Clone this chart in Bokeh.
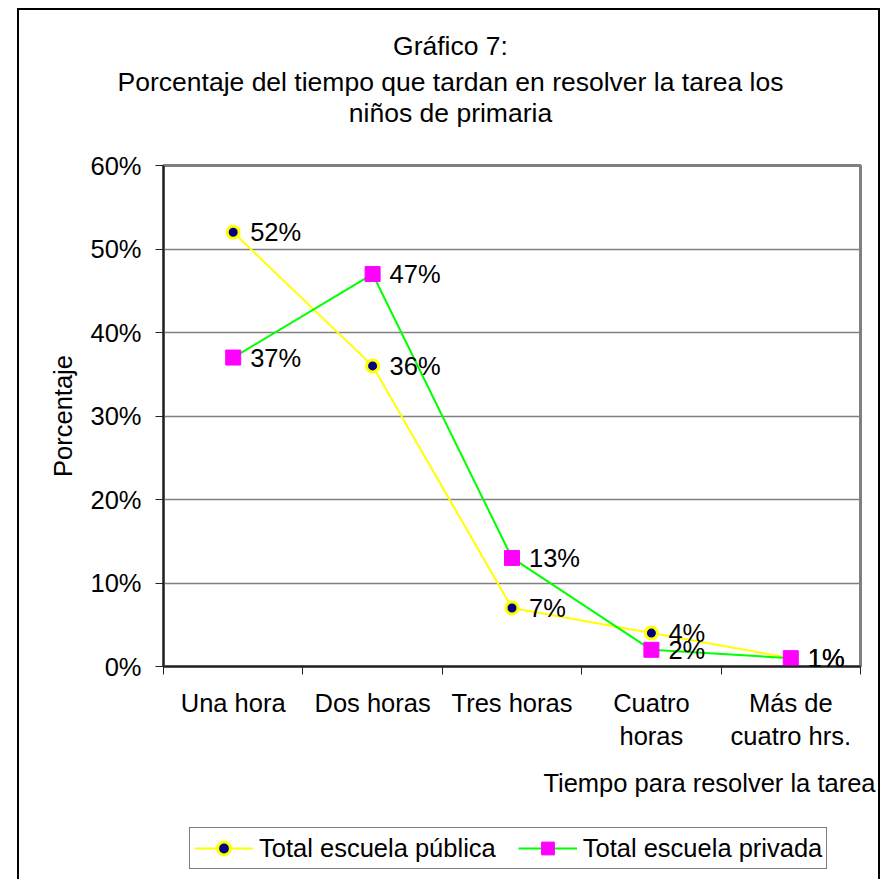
from bokeh.plotting import figure
from bokeh.layouts import column
from bokeh.models import (ColumnDataSource, Range1d, FixedTicker, PrintfTickFormatter,
                          LabelSet, Label, Title, Legend, LegendItem)
from bokeh.core.properties import value
from bokeh.embed import file_html
from bokeh.resources import INLINE

categories = ["Una hora", "Dos horas", "Tres horas", "Cuatro\nhoras", "Más de\ncuatro hrs."]
publica = [52, 36, 7, 4, 1]
privada = [37, 47, 13, 2, 1]
y_ticks = [0, 10, 20, 30, 40, 50, 60]
title_lines = ["Gráfico 7:",
               "Porcentaje del tiempo que tardan en resolver la tarea los",
               "niños de primaria"]
x_title = "Tiempo para resolver la tarea"
y_title = "Porcentaje"
series_names = ["Total escuela pública", "Total escuela privada"]

FONT = "Liberation Sans"
FS = "25.5px"
W = 859

xs = list(range(len(categories)))
src_pub = ColumnDataSource(dict(x=xs, y=publica, t=[f"{v}%" for v in publica]))
src_pri = ColumnDataSource(dict(x=xs, y=privada, t=[f"{v}%" for v in privada]))

pub_line = dict(line_color="#FFFF00", line_width=2)
pub_mark = dict(marker="circle", size=12, fill_color="#000080", line_color="#FFFF00", line_width=3)
pri_line = dict(line_color="#00FF00", line_width=2)
pri_mark = dict(marker="square", size=15, fill_color="#FF00FF", line_color="#FF00FF", line_width=1)


def blank(h):
    f = figure(width=W, height=h, output_backend="svg", toolbar_location=None,
               x_axis_type=None, y_axis_type=None, min_border=0,
               x_range=Range1d(0, 1), y_range=Range1d(-2, -1))
    f.frame_align = False
    f.outline_line_color = None
    f.grid.grid_line_color = None
    f.background_fill_color = "white"
    f.border_fill_color = "white"
    return f


# ---- title block ----
top = blank(130)
for txt, yy in zip(title_lines, [95, 59, 28]):
    top.add_layout(Label(x=431, y=yy, x_units="screen", y_units="screen", text=txt,
                         text_font=FONT, text_font_size="26.5px", text_color="black",
                         text_align="center", text_baseline="middle"))

# ---- main chart ----
p = figure(width=W, height=675, output_backend="svg", toolbar_location=None,
           x_range=Range1d(-0.5, len(categories) - 0.5), y_range=Range1d(0, 60),
           min_border_left=144, min_border_right=18, min_border_top=25, min_border_bottom=149)
p.frame_align = False
p.background_fill_color = "white"
p.border_fill_color = "white"
p.outline_line_color = "#808080"
p.outline_line_width = 3

p.xgrid.grid_line_color = None
p.ygrid.grid_line_color = "#808080"
p.ygrid.grid_line_width = 1.5
p.ygrid.ticker = FixedTicker(ticks=y_ticks)

ya = p.yaxis[0]
ya.ticker = FixedTicker(ticks=y_ticks)
ya.formatter = PrintfTickFormatter(format="%d%%")
ya.major_tick_out = 8
ya.major_tick_in = 0
ya.minor_tick_line_color = None
ya.axis_line_color = "#222222"
ya.axis_line_width = 2
ya.major_tick_line_color = "#222222"
ya.major_label_text_font = FONT
ya.major_label_text_font_size = FS
ya.major_label_text_color = "black"
ya.major_label_standoff = 14
ya.axis_label = y_title
ya.axis_label_text_font = FONT
ya.axis_label_text_font_size = FS
ya.axis_label_text_font_style = "normal"
ya.axis_label_text_color = "black"
ya.axis_label_standoff = 10

xa = p.xaxis[0]
xa.ticker = FixedTicker(ticks=xs, minor_ticks=[i - 0.5 for i in range(len(categories) + 1)])
xa.major_label_overrides = {i: c for i, c in enumerate(categories)}
xa.major_tick_out = 0
xa.major_tick_in = 0
xa.minor_tick_out = 8
xa.minor_tick_in = 0
xa.minor_tick_line_color = "#222222"
xa.axis_line_color = "#222222"
xa.axis_line_width = 2
xa.major_label_text_font = FONT
xa.major_label_text_font_size = FS
xa.major_label_text_color = "black"
xa.major_label_text_line_height = 1.2
xa.major_label_standoff = 14

p.line("x", "y", source=src_pub, **pub_line)
p.scatter("x", "y", source=src_pub, **pub_mark)
p.line("x", "y", source=src_pri, **pri_line)
p.scatter("x", "y", source=src_pri, **pri_mark)

for src in (src_pub, src_pri):
    p.add_layout(LabelSet(x="x", y="y", text="t", source=src, x_offset=17,
                          text_font=value(FONT), text_font_size=value(FS),
                          text_baseline="middle", text_align="left", text_color="black"))

p.add_layout(Title(text=x_title, text_font=FONT, text_font_size=FS,
                   text_font_style="normal", text_color="black",
                   align="right", offset=-15, standoff=26), "below")

# ---- legend block (series drawn outside its visible range; only the legend shows) ----
bot = blank(70)
b1 = bot.line("x", "y", source=src_pub, **pub_line)
b2 = bot.scatter("x", "y", source=src_pub, **pub_mark)
b3 = bot.line("x", "y", source=src_pri, **pri_line)
b4 = bot.scatter("x", "y", source=src_pri, **pri_mark)
legend = Legend(items=[LegendItem(label=series_names[0], renderers=[b1, b2]),
                       LegendItem(label=series_names[1], renderers=[b3, b4])],
                location=(170, 16), orientation="horizontal")
legend.label_text_font = FONT
legend.label_text_font_size = FS
legend.label_text_color = "black"
legend.label_standoff = 6
legend.glyph_width = 59
legend.glyph_height = 32
legend.label_height = 20
legend.spacing = 22
legend.padding = 4
legend.margin = 0
legend.border_line_color = "black"
legend.border_line_width = 1.5
legend.background_fill_color = "white"
legend.background_fill_alpha = 1
bot.add_layout(legend, "center")

layout = column(top, p, bot, margin=(10, 0, 0, 19), styles={"outline": "2px solid black"})

open("out.html", "w").write(file_html(layout, INLINE))
